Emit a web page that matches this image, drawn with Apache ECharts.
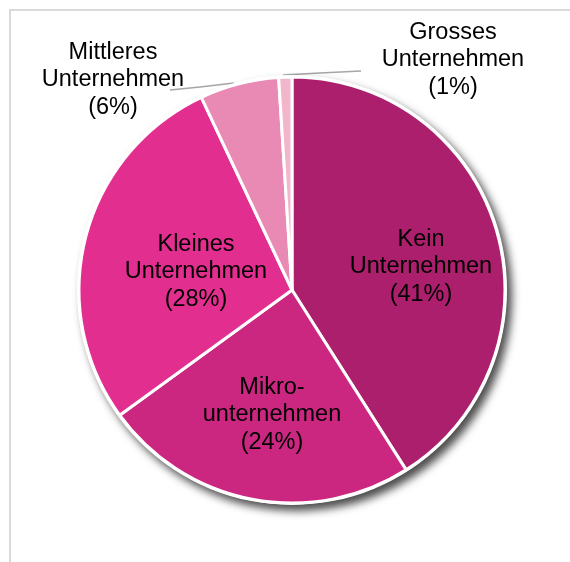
<!DOCTYPE html>
<html>
<head>
<meta charset="utf-8">
<script src="https://cdn.jsdelivr.net/npm/echarts@6/dist/echarts.min.js"></script>
<style>html,body{margin:0;padding:0;background:#fff}#c{width:570px;height:562px}</style>
</head>
<body>
<div id="c"></div>
<script>
const categories = ['Kein\nUnternehmen', 'Mikro-\nunternehmen', 'Kleines\nUnternehmen', 'Mittleres\nUnternehmen', 'Grosses\nUnternehmen'];
const values = [41, 24, 28, 6, 1];
const colors = ['#AC1F6C', '#CB2780', '#E22E8E', '#E98AB5', '#F1B5CC'];
const insideFlags = [true, true, true, false, false];

// label placement (style only)
const labelPos = [[421, 267], [272, 415], [196, 272], [113, 80], [453, 60]];
const linePts = {3: [[234, 83], [200, 87], [170, 90]], 4: [[283, 75], [320, 73], [361, 71]]};

const chart = echarts.init(document.getElementById('c'), null, {renderer: 'canvas'});
const data = categories.map((c, i) => ({
  name: c,
  value: values[i],
  itemStyle: {color: colors[i]},
  label: {position: insideFlags[i] ? 'inside' : 'outside'},
  labelLine: {show: !insideFlags[i]}
}));

chart.setOption({
  animation: false,
  graphic: [{
    type: 'rect', shape: {x: 10, y: 10, width: 700, height: 700},
    style: {fill: 'none', stroke: '#d9d9d9', lineWidth: 2}, silent: true
  }],
  series: [{
    type: 'pie', center: [292, 290], radius: 215, silent: true,
    data: [{value: 1, name: '', itemStyle: {color: '#fff'}}],
    itemStyle: {shadowBlur: 9, shadowOffsetX: 5, shadowOffsetY: 6, shadowColor: 'rgba(0,0,0,0.7)'},
    label: {show: false}, labelLine: {show: false}
  }, {
    type: 'pie', center: [292, 290], radius: 213, startAngle: 90, clockwise: true,
    data: data,
    itemStyle: {borderColor: '#fff', borderWidth: 3},
    label: {
      formatter: p => p.name + '\n(' + p.value + '%)',
      fontFamily: 'Liberation Sans, Arial, sans-serif',
      fontSize: 23.5, lineHeight: 27.5, color: '#000', align: 'center',
      overflow: 'none', width: 300
    },
    labelLine: {lineStyle: {color: '#a6a6a6', width: 1.5}, length: 10, length2: 30},
    labelLayout: function (p) {
      const i = p.dataIndex;
      const r = {x: labelPos[i][0], y: labelPos[i][1], align: 'center', verticalAlign: 'middle'};
      if (linePts[i]) r.labelLinePoints = linePts[i];
      return r;
    }
  }]
});
</script>
</body>
</html>
